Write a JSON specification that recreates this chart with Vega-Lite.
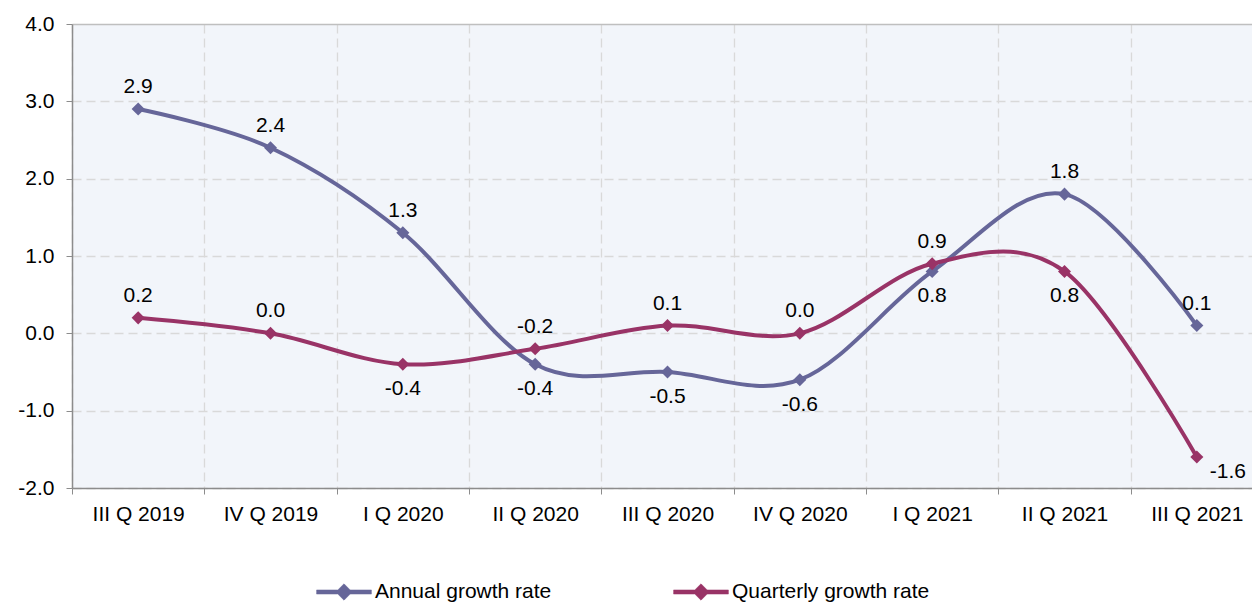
{
  "$schema": "https://vega.github.io/schema/vega-lite/v6.json",
  "width": 1180,
  "height": 464,
  "autosize": {"type": "none"},
  "padding": {"left": 72, "top": 24, "right": 0, "bottom": 115},
  "background": "white",
  "config": {
    "view": {"fill": "#F2F5FA", "stroke": null},
    "font": "Arial",
    "text": {"font": "Arial"},
    "locale": {
      "number": {"decimal": ".", "thousands": ",", "grouping": [3], "currency": ["$", ""], "minus": "-"}
    }
  },
  "data": {
    "values": [
      {"quarter": "III Q 2019", "series": "Annual growth rate", "value": 2.9},
      {"quarter": "IV Q 2019", "series": "Annual growth rate", "value": 2.4},
      {"quarter": "I Q 2020", "series": "Annual growth rate", "value": 1.3},
      {"quarter": "II Q 2020", "series": "Annual growth rate", "value": -0.4},
      {"quarter": "III Q 2020", "series": "Annual growth rate", "value": -0.5},
      {"quarter": "IV Q 2020", "series": "Annual growth rate", "value": -0.6},
      {"quarter": "I Q 2021", "series": "Annual growth rate", "value": 0.8},
      {"quarter": "II Q 2021", "series": "Annual growth rate", "value": 1.8},
      {"quarter": "III Q 2021", "series": "Annual growth rate", "value": 0.1},
      {"quarter": "III Q 2019", "series": "Quarterly growth rate", "value": 0.2},
      {"quarter": "IV Q 2019", "series": "Quarterly growth rate", "value": 0.0},
      {"quarter": "I Q 2020", "series": "Quarterly growth rate", "value": -0.4},
      {"quarter": "II Q 2020", "series": "Quarterly growth rate", "value": -0.2},
      {"quarter": "III Q 2020", "series": "Quarterly growth rate", "value": 0.1},
      {"quarter": "IV Q 2020", "series": "Quarterly growth rate", "value": 0.0},
      {"quarter": "I Q 2021", "series": "Quarterly growth rate", "value": 0.9},
      {"quarter": "II Q 2021", "series": "Quarterly growth rate", "value": 0.8},
      {"quarter": "III Q 2021", "series": "Quarterly growth rate", "value": -1.6}
    ]
  },
  "encoding": {
    "x": {
      "field": "quarter",
      "type": "nominal",
      "bandPosition": 0.5,
      "sort": ["III Q 2019", "IV Q 2019", "I Q 2020", "II Q 2020", "III Q 2020", "IV Q 2020", "I Q 2021", "II Q 2021", "III Q 2021"],
      "scale": {"type": "band", "paddingInner": 0, "paddingOuter": 0, "range": [0, 1191]},
      "axis": {
        "title": null,
        "grid": true,
        "labelAngle": 0,
        "labelFontSize": 21,
        "labelColor": "#000000",
        "labelPadding": 9,
        "tickBand": "extent",
        "tickSize": 6,
        "tickColor": "#8C8C8C",
        "domainColor": "#8C8C8C",
        "domainWidth": 1.5,
        "gridColor": "#D9D9D9",
        "gridDash": [9, 5],
        "gridWidth": 1.3
      }
    },
    "y": {
      "field": "value",
      "type": "quantitative",
      "scale": {"domain": [-2, 4], "nice": false, "zero": false},
      "axis": {
        "title": null,
        "values": [-2, -1, 0, 1, 2, 3, 4],
        "format": ".1f",
        "labelFontSize": 21,
        "labelColor": "#000000",
        "labelPadding": 12,
        "tickSize": 6,
        "tickColor": "#8C8C8C",
        "domainColor": "#8C8C8C",
        "domainWidth": 1.5,
        "gridColor": {"condition": {"test": "datum.value == 4", "value": "#BFBFBF"}, "value": "#D9D9D9"},
        "gridDash": {"condition": {"test": "datum.value == 4", "value": []}, "value": [9, 5]},
        "gridWidth": 1.3
      }
    },
    "color": {
      "field": "series",
      "type": "nominal",
      "scale": {"domain": ["Annual growth rate", "Quarterly growth rate"], "range": ["#666699", "#993366"]},
      "legend": {
        "title": null,
        "orient": "none",
        "direction": "horizontal",
        "legendX": 244,
        "legendY": 540,
        "padding": 0,
        "labelFontSize": 21,
        "labelLimit": 0,
        "labelColor": "#000000",
        "labelOffset": 3,
        "columnPadding": 120,
        "symbolType": "M-1,-0.075L-0.225,-0.075L0,-0.3L0.225,-0.075L1,-0.075L1,0.075L0.225,0.075L0,0.3L-0.225,0.075L-1,0.075Z",
        "symbolSize": 3000,
        "symbolStrokeWidth": 0.5,
        "encode": {
          "symbols": {
            "update": {
              "fill": {"scale": "color", "field": "value"},
              "stroke": {"scale": "color", "field": "value"},
              "fillOpacity": {"value": 1}
            }
          }
        }
      }
    }
  },
  "layer": [
    {
      "mark": {
        "type": "line",
        "interpolate": "cardinal",
        "strokeWidth": 4,
        "point": {"filled": true, "shape": "diamond", "size": 170, "opacity": 1}
      }
    },
    {
      "transform": [
        {"filter": "(datum.series == 'Annual growth rate' && indexof(['III Q 2019','IV Q 2019','I Q 2020','II Q 2021','III Q 2021'], datum.quarter) >= 0) || (datum.series == 'Quarterly growth rate' && indexof(['III Q 2019','IV Q 2019','II Q 2020','III Q 2020','IV Q 2020','I Q 2021'], datum.quarter) >= 0)"}
      ],
      "mark": {"type": "text", "dy": -22, "fontSize": 21, "color": "#000000", "baseline": "middle"},
      "encoding": {"text": {"field": "value", "type": "quantitative", "format": ".1f"}, "color": {"value": "#000000"}}
    },
    {
      "transform": [
        {"filter": "(datum.series == 'Annual growth rate' && indexof(['II Q 2020','III Q 2020','IV Q 2020','I Q 2021'], datum.quarter) >= 0) || (datum.series == 'Quarterly growth rate' && indexof(['I Q 2020','II Q 2021'], datum.quarter) >= 0)"}
      ],
      "mark": {"type": "text", "dy": 25, "fontSize": 21, "color": "#000000", "baseline": "middle"},
      "encoding": {"text": {"field": "value", "type": "quantitative", "format": ".1f"}, "color": {"value": "#000000"}}
    },
    {
      "transform": [
        {"filter": "datum.series == 'Quarterly growth rate' && datum.quarter == 'III Q 2021'"}
      ],
      "mark": {"type": "text", "dx": 31, "dy": 15, "fontSize": 21, "color": "#000000", "baseline": "middle"},
      "encoding": {"text": {"field": "value", "type": "quantitative", "format": ".1f"}, "color": {"value": "#000000"}}
    }
  ]
}
